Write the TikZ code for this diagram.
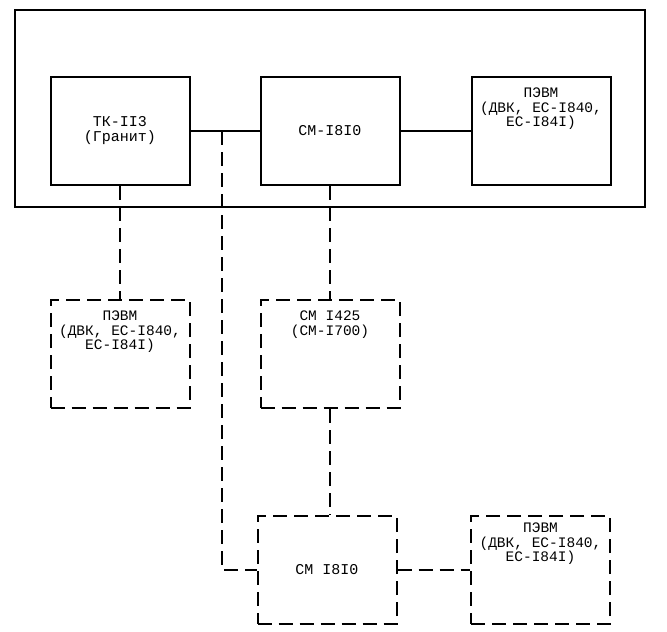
\documentclass[tikz,border=0pt]{standalone}
\usepackage{fontspec}
\newfontfamily\tw{Liberation Mono}
\begin{document}
\begin{tikzpicture}[x=1pt,y=-1pt,
  blk/.style={draw,line width=2pt,rectangle,minimum width=139pt,minimum height=108pt,inner sep=0pt,
    font=\tw\fontsize{15}{15}\selectfont,align=center},
  dblk/.style={blk,dash pattern=on 14pt off 7pt},
  txt/.style={font=\tw\fontsize{14.5}{14.5}\selectfont,align=center,inner sep=0pt},
  link/.style={line width=2pt},
  dlink/.style={line width=2pt,dash pattern=on 14pt off 7pt}]
\useasboundingbox (0,0) rectangle (667,632);
\node[draw,line width=1.5pt,minimum width=630pt,minimum height=197pt,inner sep=0pt] (frame) at (330,108.5) {};
% top row
\node[blk] (tk) at (120,131) {ТК-II3\\(Гранит)};
\node[blk] (cm) at (330,131) {СМ-I8I0};
\node[blk,label={[txt,anchor=north,yshift=-12pt]north:{ПЭВМ\\(ДВК, ЕС-I840,\\ЕС-I84I)}}] (pc1) at (541,131) {};
% middle row
\node[dblk,label={[txt,anchor=north,yshift=-12pt]north:{ПЭВМ\\(ДВК, ЕС-I840,\\ЕС-I84I)}}] (pc2) at (120,354) {};
\node[dblk,label={[txt,anchor=north,yshift=-12pt]north:{СМ I425\\(СМ-I700)}}] (cm2) at (330,354) {};
% bottom row
\node[dblk] (cm3) at (327,570) {СМ I8I0};
\node[dblk,label={[txt,anchor=north,yshift=-8pt]north:{ПЭВМ\\(ДВК, ЕС-I840,\\ЕС-I84I)}}] (pc3) at (540.5,570) {};
% connectors
\draw[link] (tk) -- (cm);
\draw[link] (cm) -- (pc1);
\coordinate (j) at (222,131);
\draw[dlink] (j) |- (cm3.west);
\draw[dlink] (tk.south) -- (pc2.north);
\draw[dlink] (cm.south) -- (cm.south |- cm2.north);
\draw[dlink] (cm2.south) -- (cm2.south |- cm3.north);
\draw[dlink] (cm3.east) -- (cm3.east -| pc3.west);
\end{tikzpicture}
\end{document}
